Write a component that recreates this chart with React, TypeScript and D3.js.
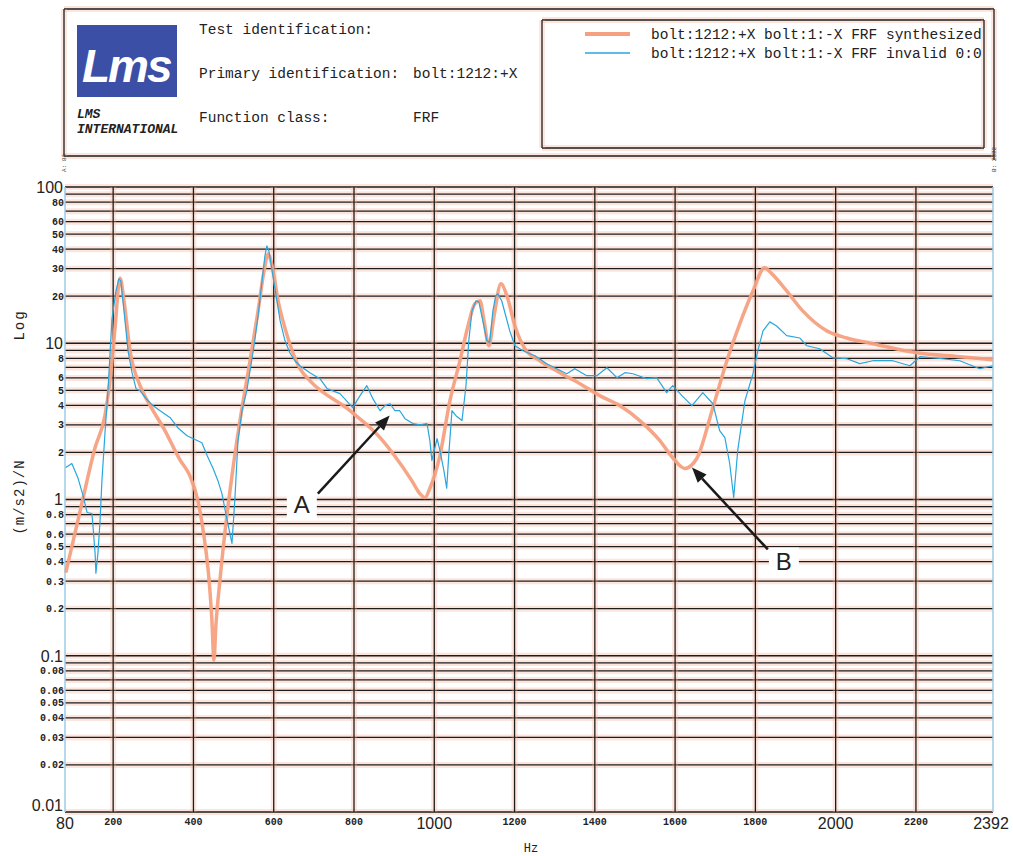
import * as d3 from 'd3';
import React, {Component} from 'react';

// FRF synthesized (orange) - frequency in Hz, amplitude in (m/s2)/N
const synthHz = [82, 117, 155, 180, 192, 205, 217, 227, 242, 267, 292, 329, 366, 391, 411, 426, 439, 446, 451, 456,
    466, 479, 496, 516, 541, 561, 576, 586, 596, 611, 630, 665, 690, 790, 865, 897, 944, 964, 977, 989,
    1014, 1039, 1064, 1084, 1101, 1114, 1124, 1136, 1149, 1166, 1181, 1201, 1226, 1263, 1313, 1363, 1412, 1462, 1512, 1562,
    1594, 1624, 1654, 1694, 1729, 1761, 1794, 1823, 1840, 1878, 1918, 1978, 2028, 2093, 2202, 2309, 2391];
const synthVal = [0.34, 0.83, 2.15, 3.5, 5.76, 12.9, 26.2, 18.7, 8.95, 5.35, 4.0, 2.76, 1.8, 1.42, 0.985, 0.589, 0.304, 0.169, 0.094, 0.157,
    0.304, 0.634, 1.42, 3.2, 7.73, 16.1, 29.1, 37.3, 31.3, 18.7, 12.0, 6.9, 5.76, 3.7, 2.49, 1.97, 1.32, 1.09, 1.03, 1.18,
    1.91, 4.29, 7.73, 12.9, 17.9, 18.7, 13.9, 9.64, 15.0, 24.0, 20.1, 12.9, 9.2, 7.73, 6.48, 5.51, 4.62, 3.99, 3.2, 2.38,
    1.85, 1.58, 1.83, 3.87, 7.73, 13.3, 21.6, 30.4, 28.0, 21.6, 16.1, 12.0, 10.8, 9.93, 8.69, 8.2, 7.85];

// FRF measured (blue)
const measHz = [82, 97, 112, 125, 135, 147, 150, 155, 157, 162, 167, 172, 180, 187, 197, 207, 214, 219, 227, 237,
    247, 257, 267, 282, 299, 317, 342, 361, 384, 421, 434, 449, 461, 471, 484, 496, 503, 511, 521, 533,
    541, 551, 561, 571, 578, 583, 588, 596, 606, 616, 628, 640, 653, 665, 690, 715, 733, 765, 797, 815,
    832, 847, 865, 877, 890, 902, 914, 927, 947, 964, 982, 989, 994, 1007, 1014, 1024, 1031, 1036, 1044, 1054,
    1069, 1079, 1086, 1094, 1104, 1111, 1121, 1131, 1138, 1146, 1153, 1158, 1168, 1178, 1188, 1201, 1221, 1251, 1280, 1305,
    1330, 1350, 1380, 1405, 1430, 1455, 1475, 1495, 1530, 1554, 1579, 1594, 1617, 1642, 1669, 1694, 1711, 1724, 1736, 1746,
    1756, 1774, 1794, 1806, 1819, 1836, 1853, 1878, 1911, 1928, 1960, 1993, 2028, 2060, 2093, 2142, 2185, 2210, 2267, 2309,
    2359, 2391];
const measVal = [1.6, 1.7, 1.38, 1.06, 0.826, 0.814, 0.662, 0.452, 0.337, 0.452, 0.703, 1.32, 2.76, 4.97, 14.3, 21.6, 25.8, 25.1, 16.1, 8.95,
    6.48, 5.12, 4.97, 4.42, 3.99, 3.7, 3.34, 2.88, 2.56, 2.31, 1.91, 1.58, 1.32, 1.09, 0.734, 0.524, 0.985, 2.38, 3.7, 4.97,
    6.67, 9.64, 15.0, 25.1, 36.2, 42.0, 39.0, 29.1, 20.1, 13.9, 10.4, 8.69, 7.73, 7.18, 6.48, 5.93, 5.12, 4.76, 3.87, 4.62,
    5.35, 4.42, 3.7, 3.99, 4.1, 3.7, 3.7, 3.29, 3.06, 3.01, 3.06, 2.38, 1.78, 2.45, 2.06, 1.53, 1.18, 1.91, 3.7, 3.44,
    3.2, 5.35, 10.4, 16.1, 18.7, 18.4, 13.9, 10.4, 10.1, 16.1, 20.1, 20.7, 18.7, 15.0, 12.0, 9.64, 8.95, 8.32, 7.4, 6.87,
    6.38, 6.87, 6.2, 6.2, 6.97, 6.02, 6.48, 6.38, 5.93, 6.02, 4.83, 5.35, 4.62, 3.99, 4.83, 4.1, 2.76, 2.49, 1.7, 1.03,
    2.06, 4.29, 6.38, 8.95, 12.0, 13.7, 12.9, 11.2, 10.8, 9.64, 9.22, 8.08, 7.96, 7.4, 7.73, 7.73, 7.18, 8.2, 7.96, 7.73,
    6.87, 7.18];

const xTicksMajor = [80, 1000, 2000, 2392];
const xTicksMinor = [200, 400, 600, 800, 1200, 1400, 1600, 1800, 2200];
const yTicksMajor = [100, 10, 1, 0.1, 0.01];
const yTicksMinor = [80, 60, 50, 40, 30, 20, 8, 6, 5, 4, 3, 2, 0.8, 0.6, 0.5, 0.4, 0.3, 0.2,
    0.08, 0.06, 0.05, 0.04, 0.03, 0.02];

const legendLabels = ["bolt:1212:+X bolt:1:-X FRF synthesized", "bolt:1212:+X bolt:1:-X FRF invalid 0:0"];
const headerLabels = ["Test identification:", "Primary identification:", "Function class:"];
const headerValues = ["", "bolt:1212:+X", "FRF"];

// annotation arrows: tip, tail and label centre in data units (Hz, amplitude)
const annotations = [
    {label: "A", tipHz: 889, tipVal: 3.45, tailHz: 710, tailVal: 1.09, boxHz: 670, boxVal: 0.93},
    {label: "B", tipHz: 1642, tipVal: 1.6, tailHz: 1831, tailVal: 0.479, boxHz: 1871, boxVal: 0.401}
];

const ORANGE = "#f5a080";
const BLUE = "#2aa6de";
const HALO = "#f6b49a";
const MONO = "'Liberation Mono', monospace";
const SANS = "'Liberation Sans', Arial, sans-serif";

class FrfChart extends Component {
    _node: SVGSVGElement | null = null;

    componentDidMount() {
        this.draw();
    }

    _hline(g, x1, x2, yy, w = 1.3) {
        g.append("line").attr("x1", x1).attr("x2", x2).attr("y1", yy).attr("y2", yy)
            .attr("stroke", HALO).attr("stroke-width", 6).attr("stroke-opacity", 0.35);
        g.append("line").attr("x1", x1).attr("x2", x2).attr("y1", yy).attr("y2", yy)
            .attr("stroke", "#1c1c1c").attr("stroke-width", w);
    }

    _vline(g, xx, y1, y2, color = "#1c1c1c", w = 1.3) {
        g.append("line").attr("x1", xx).attr("x2", xx).attr("y1", y1).attr("y2", y2)
            .attr("stroke", HALO).attr("stroke-width", 6).attr("stroke-opacity", 0.3);
        g.append("line").attr("x1", xx).attr("x2", xx).attr("y1", y1).attr("y2", y2)
            .attr("stroke", color).attr("stroke-width", w);
    }

    drawHeader(svg) {
        let head = svg.append("g").attr("class", "header");

        // outer frame
        this._hline(head, 64, 994, 9);
        this._hline(head, 64, 994, 156);
        this._vline(head, 64, 9, 156);
        this._vline(head, 994, 9, 160);

        // logo
        head.append("rect").attr("x", 77).attr("y", 25).attr("width", 100).attr("height", 72)
            .attr("fill", "#3b4fa6");
        head.append("text").text("Lms")
            .attr("x", 82).attr("y", 82)
            .style("font-family", SANS).style("font-style", "italic").style("font-weight", "bold")
            .style("font-size", "46px").style("letter-spacing", "-2px").attr("fill", "white");
        head.selectAll(".logoText").data(["LMS", "INTERNATIONAL"]).enter().append("text")
            .text((d) => d)
            .attr("x", 77).attr("y", (d, i) => 118 + i * 15)
            .style("font-family", MONO).style("font-style", "italic").style("font-weight", "bold")
            .style("font-size", "13px").attr("fill", "#222");

        head.selectAll(".hlab").data(headerLabels).enter().append("text")
            .text((d) => d)
            .attr("x", 199).attr("y", (d, i) => 34 + i * 44)
            .style("font-family", MONO).style("font-size", "14.5px").attr("fill", "#222");
        head.selectAll(".hval").data(headerValues).enter().append("text")
            .text((d) => d)
            .attr("x", 413).attr("y", (d, i) => 34 + i * 44)
            .style("font-family", MONO).style("font-size", "14.5px").attr("fill", "#222");

        // legend box
        let lg = head.append("g");
        this._hline(lg, 542, 984, 20);
        this._hline(lg, 542, 984, 148);
        this._vline(lg, 542, 20, 148);
        this._vline(lg, 984, 20, 148);

        lg.append("line").attr("x1", 585).attr("x2", 630).attr("y1", 34).attr("y2", 34)
            .attr("stroke", ORANGE).attr("stroke-width", 4);
        lg.append("line").attr("x1", 585).attr("x2", 630).attr("y1", 53).attr("y2", 53)
            .attr("stroke", BLUE).attr("stroke-width", 1.4);
        lg.selectAll(".ltext").data(legendLabels).enter().append("text")
            .text((d) => d)
            .attr("x", 651).attr("y", (d, i) => 39 + i * 19)
            .style("font-family", MONO).style("font-size", "14.5px").attr("fill", "#222");

        // cursor tags at the top corners
        [["A: 80", 64], ["B: 2392", 994]].forEach(([t, xx]) => {
            head.append("text").text(t)
                .attr("transform", `translate(${xx + 2}, 172) rotate(-90)`)
                .style("font-family", MONO).style("font-size", "6px").attr("fill", "#444");
        });
    }

    draw() {
        let svg = d3.select(this._node);
        svg.selectAll("*").remove();

        let margin = {l: 65, r: 993, t: 187, b: 812};
        let x = d3.scaleLinear().domain([80, 2392]).range([margin.l, margin.r]);
        let y = d3.scaleLog().domain([0.01, 100]).range([margin.b, margin.t]);

        this.drawHeader(svg);

        // grid
        let grid = svg.append("g").attr("class", "grid");
        y.ticks().forEach((t) => this._hline(grid, margin.l, margin.r, y(t)));
        d3.range(200, 2392, 200).forEach((t) => this._vline(grid, x(t), margin.t, margin.b));
        grid.append("line").attr("x1", margin.l).attr("x2", margin.l).attr("y1", margin.t).attr("y2", margin.b)
            .attr("stroke", "#9ccbe6").attr("stroke-width", 1.5);
        grid.append("line").attr("x1", margin.r).attr("x2", margin.r).attr("y1", margin.t).attr("y2", margin.b)
            .attr("stroke", "#9ccbe6").attr("stroke-width", 1.5);

        // curves
        let smooth = d3.line().x((d) => x(d[0])).y((d) => y(d[1])).curve(d3.curveMonotoneX);
        let raw = d3.line().x((d) => x(d[0])).y((d) => y(d[1]));
        let chart = svg.append("g").attr("class", "curves");
        chart.append("path").datum(d3.zip(synthHz, synthVal))
            .attr("d", smooth).attr("fill", "none")
            .attr("stroke", ORANGE).attr("stroke-width", 3.5).attr("stroke-linejoin", "round")
            .attr("stroke-opacity", 0.95);
        chart.append("path").datum(d3.zip(measHz, measVal))
            .attr("d", raw).attr("fill", "none")
            .attr("stroke", BLUE).attr("stroke-width", 1.2).attr("stroke-linejoin", "round");

        // axes labels
        let ax = svg.append("g").attr("class", "axes");
        ax.selectAll(".ymaj").data(yTicksMajor).enter().append("text")
            .text((d) => String(d))
            .attr("x", 63).attr("y", (d) => y(d) - (d === 0.01 ? 7 : 0)).attr("dy", "0.36em")
            .attr("text-anchor", "end")
            .style("font-family", SANS).style("font-size", "16px").attr("fill", "#222");
        ax.selectAll(".ymin").data(yTicksMinor).enter().append("text")
            .text((d) => String(d))
            .attr("x", 64).attr("y", (d) => y(d)).attr("dy", "0.35em")
            .attr("text-anchor", "end")
            .style("font-family", MONO).style("font-weight", "bold").style("font-size", "10px").attr("fill", "#222");
        ax.selectAll(".xmaj").data(xTicksMajor).enter().append("text")
            .text((d) => String(d))
            .attr("x", (d) => x(d) + (d === 2392 ? -2 : 0)).attr("y", 829)
            .attr("text-anchor", "middle")
            .style("font-family", SANS).style("font-size", "16px").attr("fill", "#222");
        ax.selectAll(".xmin").data(xTicksMinor).enter().append("text")
            .text((d) => String(d))
            .attr("x", (d) => x(d)).attr("y", 825)
            .attr("text-anchor", "middle")
            .style("font-family", MONO).style("font-weight", "bold").style("font-size", "10px").attr("fill", "#222");

        ax.append("text").text("Hz")
            .attr("x", 531).attr("y", 852).attr("text-anchor", "middle")
            .style("font-family", MONO).style("font-size", "12px").attr("fill", "#222");
        ax.append("text").text("Log")
            .attr("transform", "translate(24, 325) rotate(-90)").attr("text-anchor", "middle")
            .style("font-family", MONO).style("font-size", "14px").style("letter-spacing", "2px").attr("fill", "#222");
        ax.append("text").text("(m/s2)/N")
            .attr("transform", "translate(24, 497) rotate(-90)").attr("text-anchor", "middle")
            .style("font-family", MONO).style("font-size", "14px").style("letter-spacing", "1px").attr("fill", "#222");

        // annotation arrows
        let ann = svg.append("g").attr("class", "annotations");
        annotations.forEach((a) => {
            let tx = x(a.tipHz), ty = y(a.tipVal), sx = x(a.tailHz), sy = y(a.tailVal);
            let ang = Math.atan2(ty - sy, tx - sx);
            let hl = 15, hw = 6;
            let bx = tx - hl * Math.cos(ang), by = ty - hl * Math.sin(ang);
            ann.append("line").attr("x1", sx).attr("y1", sy).attr("x2", bx).attr("y2", by)
                .attr("stroke", "#1a1a1a").attr("stroke-width", 2.5);
            ann.append("path")
                .attr("d", `M${tx},${ty}L${bx - hw * Math.sin(ang)},${by + hw * Math.cos(ang)}L${bx + hw * Math.sin(ang)},${by - hw * Math.cos(ang)}Z`)
                .attr("fill", "#1a1a1a");
            let cx = x(a.boxHz), cy = y(a.boxVal);
            ann.append("rect").attr("x", cx - 15).attr("y", cy - 14).attr("width", 30).attr("height", 28)
                .attr("fill", "white");
            ann.append("text").text(a.label)
                .attr("x", cx).attr("y", cy).attr("dy", "0.36em").attr("text-anchor", "middle")
                .style("font-family", SANS).style("font-size", "24px").attr("fill", "#222");
        });
    }

    render() {
        return (
            <div style={{position: "absolute", left: 0, top: 0}}>
                <svg ref={(c) => { this._node = c; }} width={1013} height={856} style={{display: "block", background: "white"}} />
            </div>
        );
    }
}

export default function App() {
    return <FrfChart />;
}
